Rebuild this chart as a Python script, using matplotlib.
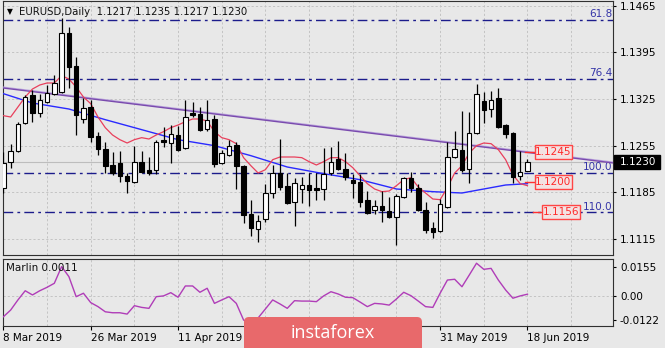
import matplotlib
matplotlib.use('Agg')
import matplotlib.pyplot as plt
import matplotlib.transforms as mtransforms
from matplotlib.patches import Rectangle, FancyBboxPatch
import numpy as np
import pandas as pd

# ---------------- data ----------------
dates = pd.bdate_range('2019-03-08', '2019-06-18')

opens = [1.1192, 1.1231, 1.1247, 1.1289, 1.1331, 1.1304, 1.1321, 1.1333, 1.1336, 1.1424,
         1.1375, 1.1295, 1.1313, 1.1270, 1.1250, 1.1226, 1.1229, 1.1210, 1.1201, 1.1231,
         1.1219, 1.1219, 1.1264, 1.1259, 1.1271, 1.1252, 1.1304, 1.1303, 1.1280, 1.1295,
         1.1229, 1.1241, 1.1256, 1.1225, 1.1153, 1.1130, 1.1145, 1.1184, 1.1214, 1.1195,
         1.1171, 1.1190, 1.1196, 1.1192, 1.1190, 1.1214, 1.1235, 1.1220, 1.1204, 1.1201,
         1.1174, 1.1159, 1.1165, 1.1157, 1.1148, 1.1178, 1.1207, 1.1192, 1.1159, 1.1132,
         1.1127, 1.1163, 1.1238, 1.1249, 1.1220, 1.1274, 1.1322, 1.1310, 1.1327, 1.1286,
         1.1274, 1.1210, 1.1217]
highs = [1.1246, 1.1258, 1.1291, 1.1331, 1.1339, 1.1333, 1.1346, 1.1361, 1.1447, 1.1433,
         1.1388, 1.1327, 1.1324, 1.1276, 1.1261, 1.1246, 1.1247, 1.1214, 1.1255, 1.1247,
         1.1238, 1.1264, 1.1283, 1.1286, 1.1285, 1.1324, 1.1321, 1.1313, 1.1324, 1.1301,
         1.1249, 1.1264, 1.1261, 1.1226, 1.1174, 1.1151, 1.1198, 1.1226, 1.1265, 1.1214,
         1.1207, 1.1208, 1.1214, 1.1214, 1.1252, 1.1253, 1.1262, 1.1244, 1.1213, 1.1213,
         1.1187, 1.1174, 1.1187, 1.1178, 1.1183, 1.1208, 1.1216, 1.1198, 1.1171, 1.1141,
         1.1175, 1.1261, 1.1277, 1.1307, 1.1306, 1.1348, 1.1336, 1.1337, 1.1342, 1.1287,
         1.1276, 1.1247, 1.1235]
lows = [1.1184, 1.1222, 1.1246, 1.1288, 1.1291, 1.1298, 1.1319, 1.1331, 1.1334, 1.1342,
        1.1271, 1.1289, 1.1261, 1.1241, 1.1214, 1.1211, 1.1201, 1.1184, 1.1199, 1.1214,
        1.1211, 1.1213, 1.1253, 1.1229, 1.1247, 1.1250, 1.1298, 1.1277, 1.1277, 1.1223,
        1.1227, 1.1240, 1.1190, 1.1139, 1.1120, 1.1111, 1.1141, 1.1177, 1.1189, 1.1167,
        1.1135, 1.1169, 1.1165, 1.1174, 1.1174, 1.1211, 1.1219, 1.1204, 1.1177, 1.1163,
        1.1153, 1.1153, 1.1141, 1.1147, 1.1106, 1.1177, 1.1186, 1.1157, 1.1124, 1.1117,
        1.1126, 1.1162, 1.1237, 1.1216, 1.1199, 1.1273, 1.1289, 1.1298, 1.1282, 1.1267,
        1.1199, 1.1204, 1.1217]
closes = [1.1229, 1.1247, 1.1288, 1.1328, 1.1304, 1.1324, 1.1334, 1.1349, 1.1424, 1.1373,
          1.1301, 1.1312, 1.1268, 1.1250, 1.1225, 1.1214, 1.1210, 1.1202, 1.1231, 1.1216,
          1.1214, 1.1261, 1.1261, 1.1273, 1.1249, 1.1298, 1.1301, 1.1279, 1.1294, 1.1228,
          1.1244, 1.1255, 1.1225, 1.1151, 1.1132, 1.1142, 1.1184, 1.1214, 1.1193, 1.1169,
          1.1199, 1.1196, 1.1189, 1.1189, 1.1213, 1.1231, 1.1220, 1.1208, 1.1199, 1.1171,
          1.1154, 1.1165, 1.1159, 1.1148, 1.1180, 1.1207, 1.1192, 1.1159, 1.1129, 1.1126,
          1.1168, 1.1238, 1.1250, 1.1219, 1.1274, 1.1333, 1.1309, 1.1324, 1.1283, 1.1273,
          1.1208, 1.1216, 1.1230]

ma_fast = [1.1300, 1.1298, 1.1313, 1.1328, 1.1340, 1.1346, 1.1349, 1.1349, 1.1360, 1.1355,
           1.1343, 1.1328, 1.1318, 1.1298, 1.1282, 1.1271, 1.1264, 1.1259, 1.1264, 1.1267,
           1.1265, 1.1271, 1.1276, 1.1282, 1.1286, 1.1291, 1.1295, 1.1295, 1.1292, 1.1276,
           1.1267, 1.1264, 1.1258, 1.1237, 1.1225, 1.1214, 1.1219, 1.1234, 1.1238, 1.1238,
           1.1238, 1.1237, 1.1231, 1.1226, 1.1231, 1.1237, 1.1237, 1.1231, 1.1222, 1.1210,
           1.1198, 1.1190, 1.1186, 1.1187, 1.1195, 1.1204, 1.1207, 1.1193, 1.1184, 1.1175,
           1.1174, 1.1192, 1.1214, 1.1225, 1.1244, 1.1255, 1.1259, 1.1258, 1.1249, 1.1234,
           1.1211, 1.1198, 1.1195]

ma_slow_idx = [0, 4, 9, 14, 19, 24, 29, 34, 39, 44, 49, 54, 59, 63, 66, 69, 72]
ma_slow = [1.1333, 1.1319, 1.1310, 1.1294, 1.1279, 1.1264, 1.1255, 1.1240, 1.1223,
           1.1213, 1.1204, 1.1190, 1.1186, 1.1184, 1.1190, 1.1196, 1.1198]

marlin = [-0.0107, -0.0072, -0.0019, 0.0029, 0.0007, 0.0029, 0.0047, 0.0068, 0.0155, 0.0103,
          -0.0002, 0.0016, -0.0033, -0.0054, -0.0081, -0.0086, -0.0086, -0.0093, -0.0049, -0.0058,
          -0.0063, -0.0002, 0.0002, 0.0019, -0.0005, 0.0054, 0.0054, 0.0021, 0.0042, -0.0037,
          -0.0019, -0.0002, -0.0037, -0.0124, -0.0145, -0.0113, -0.0066, -0.0019, -0.0040, -0.0063,
          -0.0023, -0.0025, -0.0025, -0.0028, 0.0002, 0.0024, 0.0012, -0.0005, -0.0007, -0.0030,
          -0.0054, -0.0037, -0.0040, -0.0046, -0.0014, 0.0021, 0.0003, -0.0025, -0.0054, -0.0058,
          0.0016, 0.0085, 0.0089, 0.0050, 0.0111, 0.0173, 0.0141, 0.0146, 0.0085, 0.0033,
          -0.0010, 0.0002, 0.0011]

fib_levels = [1.1444, 1.1355, 1.1214, 1.1155]
fib_labels = ['61.8', '76.4', '100.0', '110.0']
trend_x = [-0.4, 83.8]
trend_y = [1.1342, 1.1229]
price_ticks = [1.1465, 1.1395, 1.1325, 1.1255, 1.1185, 1.1115]
marlin_ticks = [0.0155, 0.0, -0.0122]
marlin_tick_labels = ['0.0155', '0.00', '-0.0122']
box_labels = ['1.1245', '1.1200', '1.1156']
box_values = [1.1245, 1.1200, 1.1156]
last_price = 1.1230
title = 'EURUSD,Daily  1.1217 1.1235 1.1217 1.1230'
indicator_label = 'Marlin 0.0011'
hidden_date_ticks = [36, 48]   # these labels sit under the watermark in the reference

# ---------------- figure ----------------
W, H = 665, 348
BG = '#E8E8E8'
GRID = '#C3C3C3'
fig = plt.figure(figsize=(W / 100, H / 100), dpi=100, facecolor=BG)
plt.rcParams['font.family'] = ['DejaVu Sans']


def fx(px):
    return px / W


def fy(py):
    return 1 - py / H


ax = fig.add_axes([fx(3), fy(255), fx(613) - fx(3), fy(1) - fy(255)])
ax2 = fig.add_axes([fx(3), fy(326), fx(613) - fx(3), fy(259) - fy(326)])

XL = (-0.05, 83.75)
for a in (ax, ax2):
    a.set_facecolor(BG)
    a.set_xlim(*XL)
    for s in a.spines.values():
        s.set_color('#303030')
        s.set_linewidth(0.8)
    for k in range(0, 85, 6):
        a.axvline(k, color=GRID, lw=0.7, ls=(0, (2.2, 2.2)), zorder=0)

ax.set_ylim(1.1091, 1.1472)
ax2.set_ylim(-0.01553, 0.0195)

for t in price_ticks:
    ax.axhline(t, color=GRID, lw=0.7, ls=(0, (2.2, 2.2)), zorder=0)
ax2.axhline(0.0, color=GRID, lw=0.7, ls=(0, (2.2, 2.2)), zorder=0)

# current price line
ax.axhline(last_price, color='#BDBDBD', lw=0.8, zorder=1)

# fib levels
for lvl, lab in zip(fib_levels, fib_labels):
    ax.axhline(lvl, color='#1C1C8C', lw=1.0, ls=(0, (7, 3, 2, 3)), zorder=2)
    ax.text(0.9985, lvl + 0.00012, lab, transform=mtransforms.blended_transform_factory(ax.transAxes, ax.transData),
            ha='right', va='bottom', color='#3434A8', fontsize=7.5, zorder=3)

# trend line
ax.plot(trend_x, np.array(trend_y) + 0.00012, color='#B9A2DC', lw=1.0, zorder=3)
ax.plot(trend_x, trend_y, color='#7A4BAE', lw=1.0, zorder=3)

# moving averages
ax.plot(ma_slow_idx, ma_slow, color='#2A2AFF', lw=1.0, zorder=3)
ax.plot(range(len(ma_fast)), ma_fast, color='#E8405C', lw=0.9, zorder=3)

# candles
bw = 0.62
for i in range(len(opens)):
    o, h, l, c = opens[i], highs[i], lows[i], closes[i]
    ax.vlines(i, l, h, color='black', lw=0.9, zorder=4)
    lo, hi = min(o, c), max(o, c)
    fc = 'white' if c >= o else 'black'
    ax.add_patch(Rectangle((i - bw / 2, lo), bw, max(hi - lo, 0.00005), fc=fc, ec='black', lw=0.8, zorder=5))

# red level boxes
box_x0 = [73.0, 73.0, 74.0]
box_x1 = [78.1, 78.1, 79.2]
conn_x = [71.6, 71.6, 72.7]
bh = 0.0021
for lab, val, x0, x1, cx in zip(box_labels, box_values, box_x0, box_x1, conn_x):
    ax.plot([cx, x0], [val, val], color='#FF3030', lw=1.0, zorder=6)
    ax.add_patch(Rectangle((x0, val - bh / 2), x1 - x0, bh, fc='#F3E2E2', ec='#FF4545', lw=1.0, zorder=6))
    ax.text((x0 + x1) / 2, val, lab, ha='center', va='center', color='#FF2A2A', fontsize=7.5, zorder=7)

# axes ticks
ax.yaxis.tick_right()
ax.set_yticks(price_ticks)
ax.set_yticklabels([f'{t:.4f}' for t in price_ticks])
ax.tick_params(axis='y', direction='out', length=2.5, width=0.8, pad=2.5, labelsize=7.5, colors='black')
ax.set_xticks([])

ax2.yaxis.tick_right()
ax2.set_yticks(marlin_ticks)
ax2.set_yticklabels(marlin_tick_labels)
ax2.tick_params(axis='y', direction='out', length=2.5, width=0.8, pad=2.5, labelsize=7.5, colors='black')
xt = list(range(0, len(dates), 12))
ax2.set_xticks(xt)
ax2.set_xticklabels(['' if i in hidden_date_ticks else f"{dates[i].day} {dates[i].strftime('%b %Y')}"
                     for i in xt], ha='left')
ax2.tick_params(axis='x', direction='out', length=3, width=0.8, pad=2, labelsize=7.5, colors='black')

# indicator line
ax2.plot(range(len(marlin)), marlin, color='#B03DB8', lw=1.0, zorder=3)

# last price label on the axis
bt = mtransforms.blended_transform_factory(fig.transFigure, ax.transData)
fig.add_artist(Rectangle((fx(614), last_price - 0.00105), fx(660) - fx(614), 0.0021,
                         transform=bt, fc='black', ec='black', zorder=5))
fig.text(fx(620), last_price, f'{last_price:.4f}', transform=bt, color='white', fontsize=7.5,
         va='center', ha='left', zorder=6)

# title and indicator label
fig.text(fx(10), fy(12), '\u25bc', fontsize=5.5, ha='center', va='center', color='black')
fig.text(fx(19), fy(12), title, fontsize=7.3, ha='left', va='center', color='#101010')
fig.text(fx(6), fy(268), indicator_label, fontsize=7.5, ha='left', va='center', color='#101010')

# watermark logo
logo = FancyBboxPatch((244, -8), 178, 39, boxstyle='round,pad=0,rounding_size=5',
                      transform=mtransforms.IdentityTransform(), fc='#E8696B', ec='none', zorder=8)
fig.add_artist(logo)
fig.text(fx(333), fy(333), 'instaforex', color='white', fontsize=13, ha='center', va='center',
         family=['Open Sans', 'DejaVu Sans'], zorder=9)

fig.savefig('out.png', dpi=100, facecolor=BG)
